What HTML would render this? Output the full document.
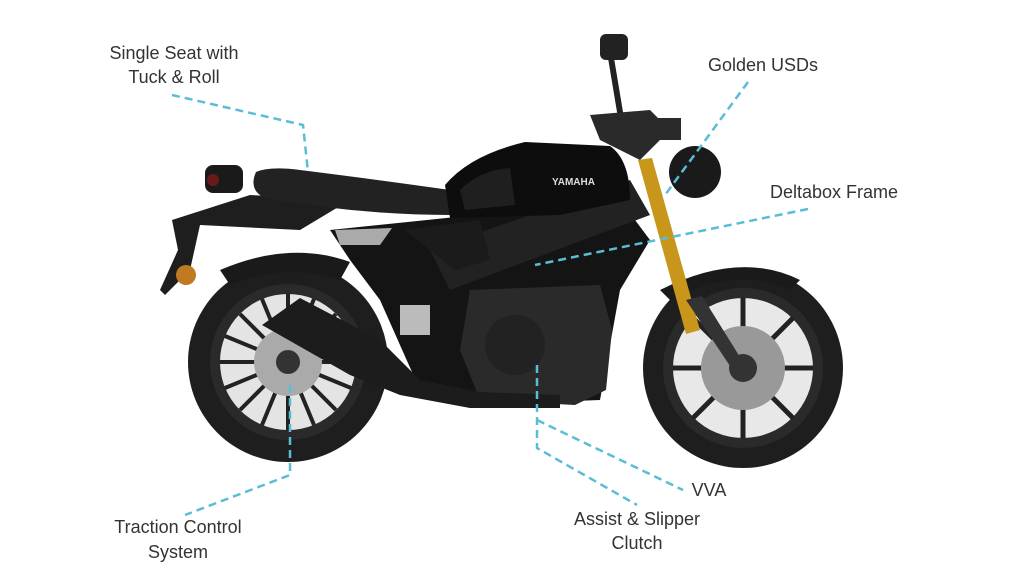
<!DOCTYPE html>
<html><head><meta charset="utf-8"><style>
html,body{margin:0;padding:0;background:#fff;}
svg{display:block;}
text{font-family:"Liberation Sans",sans-serif;font-size:18px;fill:#333;}
</style></head><body>
<svg width="1024" height="576" viewBox="0 0 1024 576">
<!-- rear wheel -->
<circle cx="288" cy="362" r="100" fill="#1e1e1e"/>
<circle cx="288" cy="362" r="78" fill="#2a2a2a"/>
<circle cx="288" cy="362" r="68" fill="#e4e4e4"/>
<g stroke="#222" stroke-width="4">
<line x1="288" y1="294" x2="288" y2="430"/><line x1="220" y1="362" x2="356" y2="362"/>
<line x1="240" y1="314" x2="336" y2="410"/><line x1="336" y1="314" x2="240" y2="410"/>
<line x1="262" y1="299" x2="314" y2="425"/><line x1="314" y1="299" x2="262" y2="425"/>
<line x1="225" y1="336" x2="351" y2="388"/><line x1="351" y1="336" x2="225" y2="388"/>
</g>
<circle cx="288" cy="362" r="34" fill="#aaa"/><circle cx="288" cy="362" r="12" fill="#333"/>
<!-- front wheel -->
<circle cx="743" cy="368" r="100" fill="#1e1e1e"/>
<circle cx="743" cy="368" r="80" fill="#2a2a2a"/>
<circle cx="743" cy="368" r="70" fill="#e8e8e8"/>
<g stroke="#222" stroke-width="5">
<line x1="743" y1="298" x2="743" y2="438"/><line x1="673" y1="368" x2="813" y2="368"/>
<line x1="693" y1="318" x2="793" y2="418"/><line x1="793" y1="318" x2="693" y2="418"/>
</g>
<circle cx="743" cy="368" r="42" fill="#999"/><circle cx="743" cy="368" r="14" fill="#333"/>
<!-- front fender -->
<path d="M660 290 Q740 250 800 280 L790 290 Q735 265 670 300 Z" fill="#1a1a1a"/>
<!-- fork -->
<polygon points="638,160 652,158 700,330 686,334" fill="#c8961a"/>
<polygon points="686,300 702,296 748,370 736,375" fill="#333"/>
<!-- headlight -->
<circle cx="695" cy="172" r="26" fill="#1a1a1a"/>
<!-- handlebar / mirror -->
<rect x="600" y="34" width="28" height="26" rx="6" fill="#222"/>
<polygon points="608,58 614,58 624,118 618,118" fill="#222"/>
<path d="M590 115 L650 110 L670 130 L640 160 L600 140 Z" fill="#2a2a2a"/>
<rect x="655" y="118" width="26" height="22" fill="#2a2a2a"/>
<!-- rear fender / tail -->
<path d="M172 220 L250 195 L350 200 L300 230 L200 225 L190 270 L165 295 L160 290 L178 250 Z" fill="#1e1e1e"/>
<rect x="205" y="165" width="38" height="28" rx="8" fill="#1a1a1a"/>
<circle cx="213" cy="180" r="6" fill="#6a1a1a"/>
<circle cx="186" cy="275" r="10" fill="#c07a20"/>
<path d="M220 270 Q290 240 350 262 L340 280 Q285 262 230 285 Z" fill="#1a1a1a"/>
<!-- frame / body -->
<path d="M330 230 L620 200 L650 240 L620 290 L600 400 L470 405 L420 390 L380 300 L350 260 Z" fill="#141414"/>
<polygon points="430,250 630,180 650,215 450,290" fill="#222"/>
<path d="M405 230 L480 220 L490 260 L455 270 Z" fill="#1b1b1b"/>
<polygon points="335,230 392,228 380,245 340,245" fill="#aaa"/>
<!-- seat -->
<path d="M256 172 Q270 166 300 170 Q380 180 450 190 L450 215 Q360 215 265 198 Q248 190 256 172 Z" fill="#222"/>
<!-- tank -->
<path d="M445 185 Q470 155 525 142 L610 146 Q630 160 630 200 L560 215 L450 218 Z" fill="#0d0d0d"/>
<path d="M460 190 Q480 170 510 168 L515 205 L465 210 Z" fill="#1f1f1f"/>
<text x="552" y="185" style="font-size:10px;font-weight:bold;fill:#ddd;">YAMAHA</text>
<!-- engine -->
<path d="M470 290 L600 285 L612 330 L606 390 L575 405 L480 400 L460 350 Z" fill="#2a2a2a"/>
<circle cx="515" cy="345" r="30" fill="#222"/>
<rect x="400" y="305" width="30" height="30" fill="#bbb"/>
<!-- exhaust -->
<path d="M262 325 L300 298 L380 340 L420 380 L480 392 L560 395 L560 408 L470 408 L400 395 L350 375 Z" fill="#1c1c1c"/>
<!-- dashed lines -->
<g fill="none" stroke="#5bbcd6" stroke-width="2.5" stroke-dasharray="8,5">
<polyline points="172,95 303,125 308,172"/>
<polyline points="748,82 665,195"/>
<polyline points="808,209 535,265"/>
<polyline points="537,365 537,448 637,505"/>
<polyline points="537,420 683,490"/>
<polyline points="290,385 290,475 185,515"/>
</g>
<!-- labels -->
<text x="174" y="59" text-anchor="middle">Single Seat with</text>
<text x="174" y="83" text-anchor="middle">Tuck &amp; Roll</text>
<text x="763" y="71" text-anchor="middle">Golden USDs</text>
<text x="834" y="198" text-anchor="middle">Deltabox Frame</text>
<text x="709" y="496" text-anchor="middle">VVA</text>
<text x="637" y="525" text-anchor="middle">Assist &amp; Slipper</text>
<text x="637" y="549" text-anchor="middle">Clutch</text>
<text x="178" y="533" text-anchor="middle">Traction Control</text>
<text x="178" y="558" text-anchor="middle">System</text>
</svg>
</body></html>
